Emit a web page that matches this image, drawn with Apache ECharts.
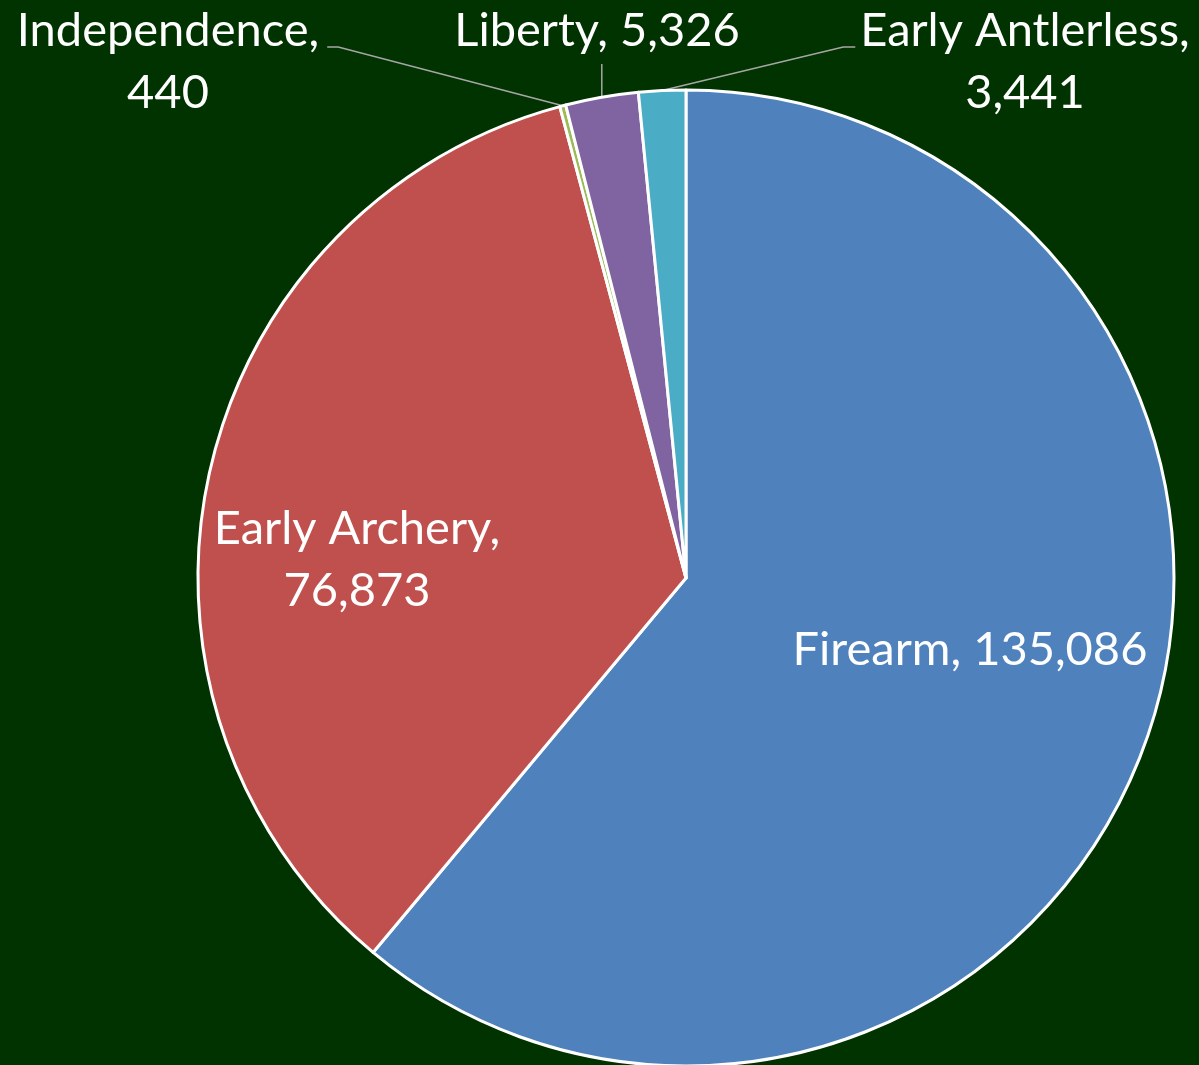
<!DOCTYPE html>
<html>
<head>
<meta charset="utf-8">
<script src="https://cdn.jsdelivr.net/npm/echarts@6/dist/echarts.min.js"></script>
<style>
  html, body { margin: 0; padding: 0; background: #003300; }
  #chart { width: 1199px; height: 1065px; }
</style>
</head>
<body>
<div id="chart"></div>
<script>
// season harvest, clockwise from 12 o'clock
const seasons = ['Firearm', 'Early Archery', 'Independence', 'Liberty', 'Early Antlerless'];
const harvest = [135086, 76873, 440, 5326, 3441];
const colors = ['#4F81BD', '#C0504D', '#9BBB59', '#8064A2', '#4BACC6'];

const insideLabels = ['Firearm', 'Early Archery'];
const wrapLabels = ['Early Archery', 'Independence', 'Early Antlerless'];

// where each label block sits (centre of text block)
const labelSpots = {
    'Firearm': [970, 650],
    'Early Archery': [357, 560],
    'Independence': [168, 62],
    'Liberty': [597, 31],
    'Early Antlerless': [1025, 62]
};

const fmt = v => v.toLocaleString('en-US');

const chart = echarts.init(document.getElementById('chart'), null, { renderer: 'canvas' });

const data = seasons.map((name, i) => {
    const inside = insideLabels.includes(name);
    return {
        name,
        value: harvest[i],
        itemStyle: { color: colors[i] },
        label: { position: inside ? 'inside' : 'outside' },
        labelLine: { show: !inside }
    };
});

const option = {
    backgroundColor: '#003300',
    animation: false,
    series: [{
        type: 'pie',
        center: [686, 578],
        radius: 488,
        startAngle: 90,
        clockwise: true,
        avoidLabelOverlap: false,
        minShowLabelAngle: 0,
        data,
        itemStyle: {
            borderColor: '#ffffff',
            borderWidth: 3
        },
        label: {
            color: '#ffffff',
            fontFamily: 'Lato, "Open Sans", sans-serif',
            fontSize: 47,
            lineHeight: 62,
            formatter: p => p.name + ',' + (wrapLabels.includes(p.name) ? '\n' : ' ') + fmt(p.value)
        },
        labelLine: {
            lineStyle: { color: '#A6A6A6', width: 1.5 },
            length: 10,
            length2: 10
        },
        labelLayout: params => {
            const name = seasons[params.dataIndex];
            const spot = labelSpots[name];
            const w = params.labelRect.width;
            const h = params.labelRect.height;
            const out = { x: spot[0], y: spot[1], align: 'center', verticalAlign: 'middle', moveOverlap: false };
            if (insideLabels.includes(name) || !params.labelLinePoints) return out;
            const edge = params.labelLinePoints[0];
            const left = spot[0] - w / 2;
            const right = spot[0] + w / 2;
            const bottom = spot[1] + h / 2;
            if (name === 'Independence') {
                const y = spot[1] - 15;
                out.labelLinePoints = [edge, [right + 19, y], [right + 8, y]];
            } else if (name === 'Early Antlerless') {
                const y = spot[1] - 15;
                out.labelLinePoints = [edge, [left - 17, y], [left - 5, y]];
            } else {
                out.labelLinePoints = [edge, [edge[0], bottom + 2], [edge[0], bottom + 2]];
            }
            return out;
        }
    }]
};

chart.setOption(option);
window.addEventListener('resize', () => chart.resize());
</script>
</body>
</html>
